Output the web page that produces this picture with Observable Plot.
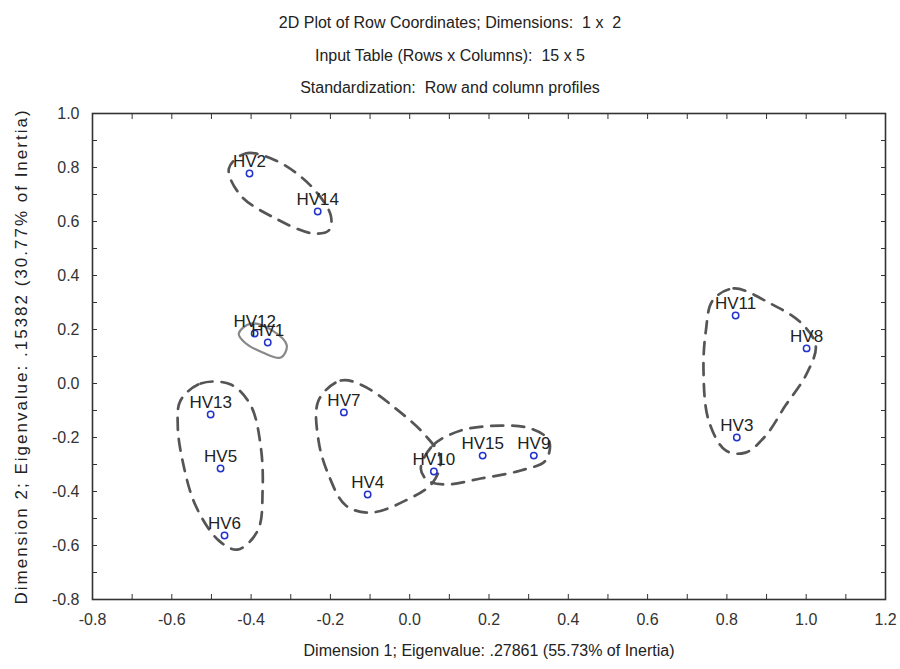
<!DOCTYPE html>
<html><head><meta charset="utf-8">
<script src="https://cdn.jsdelivr.net/npm/d3@7"></script>
<script src="https://cdn.jsdelivr.net/npm/@observablehq/plot@0.6"></script>
<style>
body{margin:0;background:#fff;font-family:"Liberation Sans",Arial,sans-serif;}
#titles{height:100px;position:relative;width:900px;}
#titles div{position:absolute;left:0;width:900px;text-align:center;font-size:16px;color:#222;line-height:20px;}
#chart svg{display:block;}
</style></head><body>
<div id="titles">
<div style="top:13px">2D Plot of Row Coordinates; Dimensions:&nbsp; 1 x&nbsp; 2</div>
<div style="top:46px">Input Table (Rows x Columns):&nbsp; 15 x 5</div>
<div style="top:78px">Standardization:&nbsp; Row and column profiles</div>
</div>
<div id="chart"></div>
<script>
// Row coordinates
const names = ["HV1","HV2","HV3","HV4","HV5","HV6","HV7","HV8","HV9","HV10","HV11","HV12","HV13","HV14","HV15"];
const dim1  = [-0.358,-0.404,0.825,-0.106,-0.477,-0.467,-0.166,1.001,0.313,0.061,0.822,-0.391,-0.502,-0.232,0.184];
const dim2  = [0.152,0.778,-0.200,-0.411,-0.315,-0.563,-0.107,0.130,-0.267,-0.326,0.252,0.185,-0.115,0.637,-0.267];

// Tick labels
const xTicks = [-0.8,-0.6,-0.4,-0.2,0.0,0.2,0.4,0.6,0.8,1.0,1.2];
const yTicks = [-0.8,-0.6,-0.4,-0.2,0.0,0.2,0.4,0.6,0.8,1.0];

// Hand-drawn group outlines (data coordinates)
const groupA = [[-0.456,0.796],[-0.414,0.852],[-0.338,0.826],[-0.250,0.733],[-0.199,0.622],[-0.204,0.567],[-0.245,0.556],[-0.338,0.611],[-0.426,0.696]];
const groupB = [[-0.431,0.185],[-0.401,0.222],[-0.346,0.196],[-0.310,0.141],[-0.325,0.096],[-0.371,0.115],[-0.416,0.152]];
const groupC = [[-0.578,-0.063],[-0.527,0.0],[-0.451,-0.004],[-0.401,-0.081],[-0.376,-0.230],[-0.371,-0.396],[-0.383,-0.544],[-0.434,-0.615],[-0.482,-0.581],[-0.540,-0.452],[-0.573,-0.285],[-0.585,-0.156]];
const groupD = [[-0.230,-0.063],[-0.174,0.011],[-0.119,-0.007],[-0.035,-0.093],[0.040,-0.193],[0.078,-0.278],[0.058,-0.367],[-0.010,-0.433],[-0.098,-0.478],[-0.161,-0.452],[-0.204,-0.341],[-0.230,-0.211]];
const groupE = [[0.028,-0.315],[0.058,-0.230],[0.129,-0.174],[0.230,-0.156],[0.305,-0.167],[0.351,-0.211],[0.343,-0.285],[0.280,-0.322],[0.179,-0.352],[0.091,-0.374],[0.045,-0.359]];
const groupF = [[0.764,0.307],[0.817,0.352],[0.910,0.296],[0.986,0.226],[1.024,0.141],[0.999,0.030],[0.948,-0.081],[0.898,-0.193],[0.847,-0.256],[0.797,-0.248],[0.754,-0.137],[0.741,0.048],[0.747,0.196]];

const xLabel = "Dimension 1; Eigenvalue: .27861 (55.73% of Inertia)";
const yLabel = "Dimension 2; Eigenvalue: .15382 (30.77% of Inertia)";

const points = names.map((n,i)=>({name:n, x:dim1[i], y:dim2[i]}));
const dashed = [["A",groupA],["C",groupC],["D",groupD],["E",groupE],["F",groupF]]
  .flatMap(([g,arr])=>arr.map(([x,y])=>({g,x,y})));
const solid = groupB.map(([x,y])=>({g:"B",x,y}));

const minorX = d3.range(-8,13).map(v=>v/10);
const minorY = d3.range(-8,11).map(v=>v/10);
const fmt = d => (Math.abs(d)<1e-9?0:d).toFixed(1);
const font = "Liberation Sans, Arial, sans-serif";

const chart = Plot.plot({
  width: 900,
  height: 569,
  marginLeft: 92,
  marginRight: 15,
  marginTop: 13,
  marginBottom: 70,
  style: {fontFamily: font, background: "#fff"},
  x: {domain: [-0.8, 1.2]},
  y: {domain: [-0.8, 1.0]},
  marks: [
    Plot.line(dashed, {x:"x", y:"y", z:"g", curve:"catmull-rom-closed", stroke:"#555", strokeWidth:2.7, strokeDasharray:"12,9"}),
    Plot.line(solid, {x:"x", y:"y", z:"g", curve:"catmull-rom-closed", stroke:"#888", strokeWidth:2.2}),
    Plot.axisX({anchor:"bottom", ticks:minorX, tickSize:-5, tickFormat:()=>"", stroke:"#333", label:null}),
    Plot.axisX({anchor:"top", ticks:minorX, tickSize:-5, tickFormat:()=>"", stroke:"#333", label:null}),
    Plot.axisY({anchor:"left", ticks:minorY, tickSize:-5, tickFormat:()=>"", stroke:"#333", label:null}),
    Plot.axisY({anchor:"right", ticks:minorY, tickSize:-5, tickFormat:()=>"", stroke:"#333", label:null}),
    Plot.axisX({anchor:"bottom", ticks:xTicks, tickSize:0, tickPadding:14, tickFormat:fmt, fontSize:16, fill:"#333", label:null}),
    Plot.axisY({anchor:"left", ticks:yTicks, tickSize:0, tickPadding:13, tickFormat:fmt, fontSize:16, fill:"#333", label:null}),
    Plot.frame({stroke:"#333", strokeWidth:1.6}),
    Plot.dot(points, {x:"x", y:"y", r:3.2, stroke:"#2233cc", strokeWidth:1.5, fill:"none"}),
    Plot.text(points, {x:"x", y:"y", text:"name", dy:-12, fontSize:17, fill:"#222", fontFamily:font}),
    Plot.text([xLabel], {frameAnchor:"bottom", text:d=>d, dy:56, fontSize:16, fill:"#222"}),
    Plot.text([yLabel], {frameAnchor:"left", textAnchor:"middle", text:d=>d, rotate:-90, dx:-71, fontSize:17, fill:"#222"})
  ]
});
d3.select(chart).selectAll("text").filter(function(){ return this.textContent === yLabel; })
  .style("letter-spacing", "2px");
document.getElementById("chart").appendChild(chart);
</script>
</body></html>
